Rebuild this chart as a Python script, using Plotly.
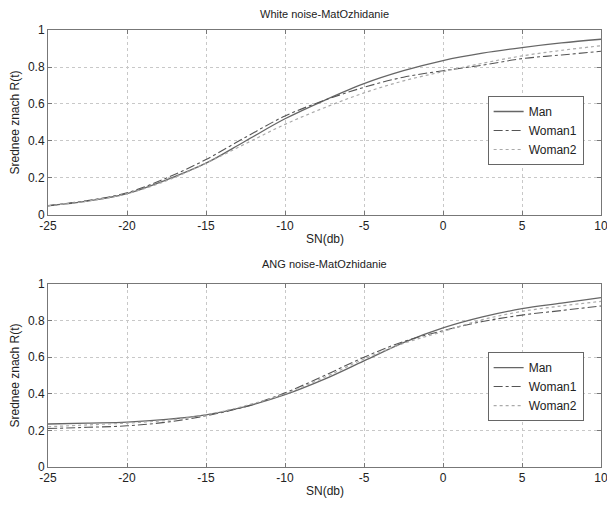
import plotly.graph_objects as go

sn = [-25, -22.5, -20, -17.5, -15, -12.5, -10, -7.5, -5, -2.5, 0, 2.5, 5, 7.5, 10]

white_man    = [0.05, 0.075, 0.115, 0.19, 0.28, 0.40, 0.52, 0.62, 0.71, 0.78, 0.835, 0.875, 0.905, 0.93, 0.95]
white_woman1 = [0.05, 0.078, 0.12, 0.20, 0.30, 0.42, 0.535, 0.62, 0.69, 0.745, 0.78, 0.81, 0.845, 0.865, 0.885]
white_woman2 = [0.05, 0.075, 0.115, 0.185, 0.28, 0.385, 0.49, 0.58, 0.66, 0.725, 0.775, 0.82, 0.86, 0.89, 0.915]

ang_man    = [0.235, 0.24, 0.245, 0.26, 0.285, 0.33, 0.395, 0.48, 0.58, 0.68, 0.76, 0.82, 0.865, 0.895, 0.925]
ang_woman1 = [0.21, 0.217, 0.225, 0.245, 0.28, 0.33, 0.405, 0.50, 0.60, 0.685, 0.745, 0.795, 0.83, 0.855, 0.88]
ang_woman2 = [0.22, 0.23, 0.24, 0.255, 0.285, 0.335, 0.40, 0.49, 0.59, 0.675, 0.74, 0.805, 0.85, 0.88, 0.905]

names = ["Man", "Woman1", "Woman2"]
x_tickvals = [-25, -20, -15, -10, -5, 0, 5, 10]
x_ticktext = ["-25", "-20", "-15", "-10", "-5", "0", "5", "10"]
y_tickvals = [0, 0.2, 0.4, 0.6, 0.8, 1]
y_ticktext = ["0", "0.2", "0.4", "0.6", "0.8", "1"]

styles = [("#666666", "solid", 1.3), ("#555555", "dashdot", 1.1), ("#aaaaaa", "dot", 1.2)]

fig = go.Figure()
for i, (ys, (c, d, w)) in enumerate(zip([white_man, white_woman1, white_woman2], styles)):
    fig.add_trace(go.Scatter(x=sn, y=ys, mode="lines", name=names[i],
                             line=dict(color=c, dash=d, width=w, shape="spline"),
                             xaxis="x", yaxis="y", legend="legend"))
for i, (ys, (c, d, w)) in enumerate(zip([ang_man, ang_woman1, ang_woman2], styles)):
    fig.add_trace(go.Scatter(x=sn, y=ys, mode="lines", name=names[i],
                             line=dict(color=c, dash=d, width=w, shape="spline"),
                             xaxis="x2", yaxis="y2", legend="legend2"))

axis_common = dict(showgrid=True, gridcolor="#c8c8c8", griddash="dot", gridwidth=1,
                   showline=True, linecolor="#777777", mirror="ticks", ticks="inside", ticklen=4,
                   tickcolor="#777777", zeroline=False, ticklabeloverflow="allow",
                   tickfont=dict(family="Liberation Sans", size=12, color="#222"))

legend_common = dict(xanchor="left", yanchor="top", bgcolor="white",
                     bordercolor="#666666", borderwidth=1,
                     font=dict(size=12, family="Liberation Sans", color="#222"),
                     tracegroupgap=0, itemwidth=30)

fig.update_layout(
    width=607, height=498,
    margin=dict(l=40, r=7, t=22, b=39),
    paper_bgcolor="white", plot_bgcolor="white",
    font=dict(family="Liberation Sans", size=11, color="#222"),
    showlegend=True,
    xaxis=dict(domain=[0, 1], range=[-25, 10], tickvals=x_tickvals, ticktext=x_ticktext, anchor="y", **axis_common),
    yaxis=dict(domain=[0.5767, 1], range=[0, 1], tickvals=y_tickvals, ticktext=y_ticktext, anchor="x", **axis_common),
    xaxis2=dict(domain=[0, 1], range=[-25, 10], tickvals=x_tickvals, ticktext=x_ticktext, anchor="y2", **axis_common),
    yaxis2=dict(domain=[0, 0.4188], range=[0, 1], tickvals=y_tickvals, ticktext=y_ticktext, anchor="x2", **axis_common),
    legend=dict(x=0.795, y=0.849, **legend_common),
    legend2=dict(x=0.795, y=0.263, **legend_common),
    annotations=[
        dict(text="White noise-MatOzhidanie", x=0.5, y=1, xref="paper", yref="paper", xanchor="center",
             yanchor="bottom", yshift=8, showarrow=False, font=dict(size=11)),
        dict(text="ANG noise-MatOzhidanie", x=0.5, y=0.4188, xref="paper", yref="paper", xanchor="center",
             yanchor="bottom", yshift=12, showarrow=False, font=dict(size=11)),
        dict(text="SN(db)", x=0.5, y=0.5767, xref="paper", yref="paper", xanchor="center",
             yanchor="top", yshift=-15, showarrow=False, font=dict(size=12)),
        dict(text="SN(db)", x=0.5, y=0, xref="paper", yref="paper", xanchor="center",
             yanchor="top", yshift=-15, showarrow=False, font=dict(size=12)),
        dict(text="Srednee znach R(t)", x=0, y=0.7883, xref="paper", yref="paper", xanchor="right",
             yanchor="middle", xshift=-24, textangle=-90, showarrow=False, font=dict(size=12)),
        dict(text="Srednee znach R(t)", x=0, y=0.2094, xref="paper", yref="paper", xanchor="right",
             yanchor="middle", xshift=-24, textangle=-90, showarrow=False, font=dict(size=12)),
    ],
)

fig.write_html("out.html")
